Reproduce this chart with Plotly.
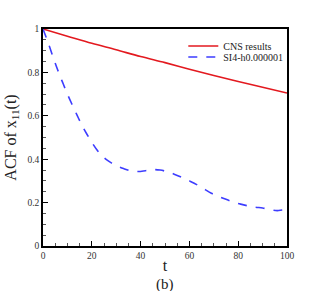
import plotly.graph_objects as go

t_cns = [0, 10, 20, 30, 40, 50, 60, 70, 80, 90, 100]
acf_cns = [1.0, 0.967, 0.934, 0.904, 0.873, 0.845, 0.815, 0.786, 0.758, 0.732, 0.705]

t_si4 = [0, 2, 4, 6, 8, 10, 12, 14, 16, 18, 20, 22, 24, 26, 28, 30, 33, 36, 39, 42,
         45, 48, 51, 54, 57, 60, 63, 66, 69, 72, 75, 78, 81, 84, 87, 90, 93, 96, 98, 100]
acf_si4 = [1.0, 0.94, 0.875, 0.812, 0.755, 0.70, 0.65, 0.602, 0.555, 0.515, 0.478,
           0.445, 0.418, 0.398, 0.383, 0.371, 0.357, 0.346, 0.343, 0.347, 0.352, 0.35,
           0.342, 0.33, 0.316, 0.30, 0.283, 0.263, 0.243, 0.228, 0.215, 0.203, 0.193,
           0.185, 0.179, 0.175, 0.168, 0.163, 0.166, 0.168]

names = ["CNS results", "SI4-h0.000001"]

fig = go.Figure()
fig.add_trace(go.Scatter(x=t_cns, y=acf_cns, mode="lines", name=names[0], legend="legend",
                         line=dict(color="#e3191f", width=1.6, shape="spline")))
fig.add_trace(go.Scatter(x=t_si4, y=acf_si4, mode="lines", name=names[1], legend="legend2",
                         line=dict(color="#3d3dff", width=1.6, dash="dash", shape="spline")))

serif = "Liberation Serif"
axis_common = dict(
    showline=True, linecolor="black", linewidth=1.5, mirror=True,
    ticks="inside", ticklen=5, tickwidth=1, tickcolor="black",
    showgrid=False, zeroline=False, automargin=False,
    tickfont=dict(family=serif, size=9.5, color="#333"),
)
fig.update_xaxes(range=[0, 100], dtick=20,
                 minor=dict(dtick=5, ticks="inside", ticklen=3, tickcolor="#555"),
                 title=dict(text="t", font=dict(family=serif, size=16, color="#222"), standoff=0),
                 ticklabelstandoff=0,
                 **axis_common)
fig.update_yaxes(range=[0, 1], dtick=0.2,
                 minor=dict(dtick=0.05, ticks="inside", ticklen=3, tickcolor="#555"),
                 title=dict(text="ACF of x<sub>11</sub>(t)", font=dict(family=serif, size=16, color="#222"), standoff=7),
                 **axis_common)

fig.add_annotation(text="(b)", xref="paper", yref="paper", x=0.5, y=-0.13,
                   xanchor="center", yanchor="top", showarrow=False,
                   font=dict(family=serif, size=15, color="#222"))

leg_common = dict(xanchor="left", yanchor="middle", bgcolor="rgba(0,0,0,0)",
                  font=dict(family=serif, size=10, color="#222"),
                  tracegroupgap=0, itemwidth=30)
fig.update_layout(
    width=327, height=291,
    margin=dict(l=43, r=40, t=29, b=45),
    plot_bgcolor="white", paper_bgcolor="white",
    showlegend=True,
    legend=dict(x=0.575, y=(246 - 46) / 217, **leg_common),
    legend2=dict(x=0.575, y=(246 - 57) / 217, **leg_common),
)

fig.write_html("out.html", config={"displayModeBar": False})
with open("out.html", encoding="utf-8") as f:
    html = f.read()
html = html.replace("<body>", '<body style="margin:0;padding:0;">', 1)
with open("out.html", "w", encoding="utf-8") as f:
    f.write(html)
